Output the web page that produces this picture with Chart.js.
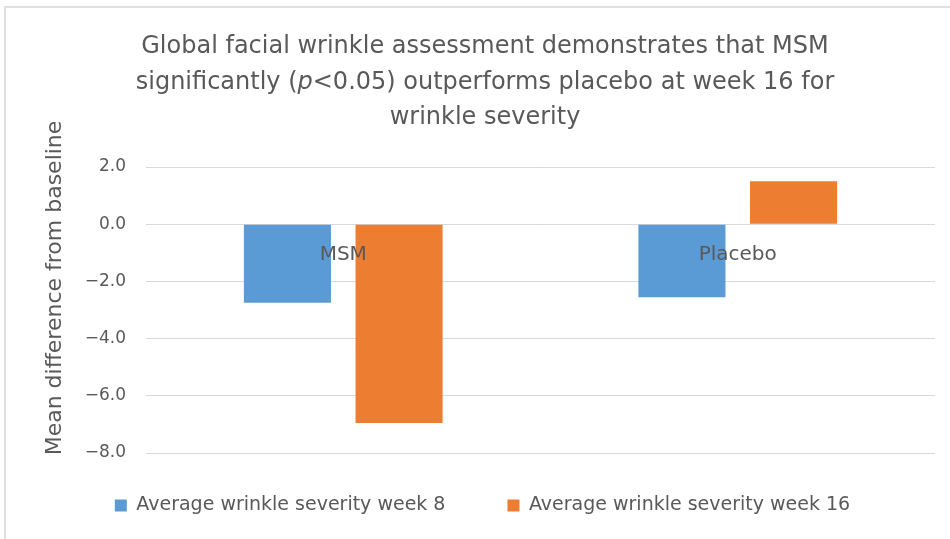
<!DOCTYPE html>
<html>
<head>
<meta charset="utf-8">
<script src="https://cdn.jsdelivr.net/npm/chart.js@4/dist/chart.umd.min.js"></script>
<style>
  html, body { margin: 0; padding: 0; background: #fff; }
  #wrap { position: absolute; left: 0; top: 0; width: 950px; height: 539px; overflow: hidden; }
  #frame { position: absolute; left: 4px; top: 6px; width: 960px; height: 560px;
           border-left: 2px solid #e0e0e0; border-top: 2px solid #e0e0e0; pointer-events: none; }
</style>
</head>
<body>
<div id="wrap">
  <canvas id="chart" width="950" height="539"></canvas>
  <div id="frame"></div>
</div>
<script>
const groups = ["MSM", "Placebo"];
const seriesNames = ["Average wrinkle severity week 8", "Average wrinkle severity week 16"];
const week8 = [-2.75, -2.55];
const week16 = [-6.95, 1.5];
const yMin = -8;
const yMax = 2;
const yStep = 2;
const chartTitle = [
  [["Global facial wrinkle assessment demonstrates that MSM", false]],
  [["significantly (", false], ["p", true], ["<0.05) outperforms placebo at week 16 for", false]],
  [["wrinkle severity", false]]
];
const yTitle = "Mean difference from baseline";

const textColor = "#595959";
const fontFamily = '"DejaVu Sans", sans-serif';

// title (with italic p), y-axis title and category labels sitting on the zero line
const extraText = {
  id: "extraText",
  afterLayout(chart) {
    // wide item spacing in the legend, but keep its row close under the plot
    chart.legend.top -= 19;
    chart.legend.bottom -= 19;
  },
  afterDatasetsDraw(chart) {
    const { ctx, scales: { x, y } } = chart;
    ctx.save();
    ctx.fillStyle = textColor;
    ctx.textBaseline = "middle";

    ctx.font = "20px " + fontFamily;
    ctx.textAlign = "center";
    groups.forEach((g, i) => {
      ctx.fillText(g, x.getPixelForValue(i), y.getPixelForValue(0) + 31);
    });

    ctx.textAlign = "left";
    const lineY = [47, 83, 118];
    chartTitle.forEach((parts, li) => {
      const fonts = parts.map(p => (p[1] ? "italic " : "") + "24px " + fontFamily);
      let total = 0;
      parts.forEach((p, k) => { ctx.font = fonts[k]; total += ctx.measureText(p[0]).width; });
      let cx = 485 - total / 2;
      parts.forEach((p, k) => {
        ctx.font = fonts[k];
        ctx.fillText(p[0], cx, lineY[li]);
        cx += ctx.measureText(p[0]).width;
      });
    });

    ctx.translate(55, 288);
    ctx.rotate(-Math.PI / 2);
    ctx.textAlign = "center";
    ctx.font = "22px " + fontFamily;
    ctx.fillText(yTitle, 0, 0);
    ctx.restore();
  }
};

new Chart(document.getElementById("chart"), {
  type: "bar",
  data: {
    labels: groups,
    datasets: [
      { label: seriesNames[0], data: week8, backgroundColor: "#5B9BD5" },
      { label: seriesNames[1], data: week16, backgroundColor: "#ED7D31" }
    ]
  },
  options: {
    responsive: false,
    animation: false,
    layout: { padding: { top: 167, left: 30, right: 15, bottom: 0 } },
    datasets: {
      bar: { categoryPercentage: 0.566, barPercentage: 0.78 }
    },
    scales: {
      x: { display: false },
      y: {
        min: yMin,
        max: yMax,
        afterFit(scale) { scale.width = 116; },
        ticks: {
          stepSize: yStep,
          padding: 20,
          color: textColor,
          font: { family: fontFamily, size: 17 },
          callback: v => v.toFixed(1).replace("-", "\u2212")
        },
        grid: { color: "#d9d9d9", lineWidth: 1, drawTicks: false },
        border: { display: false }
      }
    },
    plugins: {
      title: { display: false },
      tooltip: { enabled: false },
      legend: {
        position: "bottom",
        maxHeight: 86,
        labels: {
          boxWidth: 12,
          boxHeight: 12,
          padding: 62,
          color: textColor,
          font: { family: fontFamily, size: 19 }
        }
      }
    }
  },
  plugins: [extraText]
});
</script>
</body>
</html>
